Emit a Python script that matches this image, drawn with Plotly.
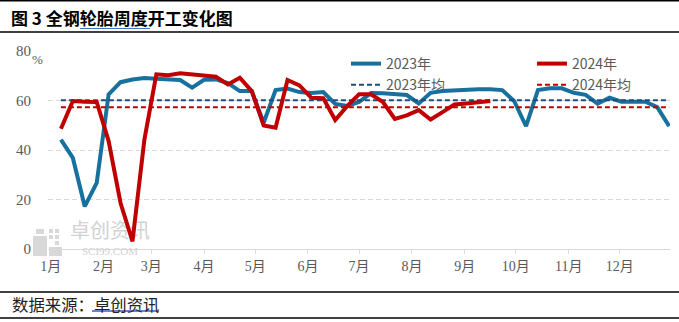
import pandas as pd
import plotly.graph_objects as go

# Weekly operating rate of all-steel tyres (%), one point per week
weeks = pd.date_range("2023-01-07", periods=52, freq="7D")

rate_2023 = [44.2, 36.8, 17.2, 26.7, 62.5, 67.4, 68.5, 69.1, 68.8, 68.5,
             68.3, 65.2, 68.4, 68.5, 67.0, 63.8, 63.8, 51.0, 64.2, 64.8,
             63.4, 63.0, 63.4, 58.6, 57.8, 59.4, 63.0, 62.9, 62.5, 62.2,
             58.8, 63.1, 63.8, 64.1, 64.1, 64.5, 64.5, 64.2, 59.8, 49.6,
             64.2, 64.9, 64.9, 63.1, 62.3, 58.7, 61.1, 59.5, 59.5, 59.5,
             57.3, 49.6]

rate_2024 = [48.6, 59.8, 59.5, 59.4, 43.6, 18.6, 3.1, 44.2, 70.6, 70.2,
             71.0, 70.6, 69.9, 69.6, 66.5, 69.2, 63.8, 49.9, 49.0, 68.3,
             66.1, 61.1, 60.9, 52.1, 57.7, 62.5, 62.5, 59.4, 52.6, 54.0,
             56.1, 52.3, 55.3, 58.4, 58.8, 59.1, 59.8]

avg_2023 = 60.1
avg_2024 = 57.3

month_ticks = pd.date_range("2023-01-01", periods=12, freq="MS")
month_labels = ["1月", "2月", "3月", "4月", "5月", "6月",
                "7月", "8月", "9月", "10月", "11月", "12月"]
y_ticks = [0, 20, 40, 60, 80]

BLUE = "#17709E"
NAVY = "#1F4E79"
RED = "#C00000"
GREY_TEXT = "#595959"
GRID = "#D9D9D9"

W, H = 679, 322
L, R, T, B = 48, 9, 51, 73
X0 = pd.Timestamp("2022-12-30 10:00")
X1 = pd.Timestamp("2023-12-30 12:00")


def px_x(px):
    return (px - L) / (W - L - R)


def px_y(py):
    return (H - B - py) / (H - T - B)


def px_date(px):
    return X0 + (X1 - X0) * px_x(px)


fig = go.Figure()

# faint source watermark, drawn first so the lines sit on top of it
fig.add_trace(go.Scatter(
    x=[px_date(110)], y=[6.6], mode="text", text=["卓创资讯"],
    textfont=dict(family="Noto Sans CJK SC", size=20, color="#D2D2D2"),
    showlegend=False, hoverinfo="skip", cliponaxis=False))

fig.add_trace(go.Scatter(
    x=weeks, y=rate_2023, name="2023年", mode="lines",
    line=dict(color=BLUE, width=4), legend="legend"))
fig.add_trace(go.Scatter(
    x=weeks, y=[avg_2023] * len(weeks), name="2023年均", mode="lines",
    line=dict(color=NAVY, width=2, dash="5px,3px"), legend="legend"))
fig.add_trace(go.Scatter(
    x=weeks[:len(rate_2024)], y=rate_2024, name="2024年", mode="lines",
    line=dict(color=RED, width=4), legend="legend2"))
fig.add_trace(go.Scatter(
    x=weeks, y=[avg_2024] * len(weeks), name="2024年均", mode="lines",
    line=dict(color=RED, width=2, dash="5px,3px"), legend="legend2"))

shapes = []
# header and footer rules
for py in (0.7, 32, 292, 318):
    shapes.append(dict(type="line", xref="paper", yref="paper",
                       x0=px_x(0), x1=px_x(W), y0=px_y(py), y1=px_y(py),
                       line=dict(color="black", width=1.4)))
# link underlines
shapes.append(dict(type="line", xref="paper", yref="paper",
                   x0=px_x(80), x1=px_x(150), y0=px_y(28.5), y1=px_y(28.5),
                   line=dict(color="#4472C4", width=1)))
shapes.append(dict(type="line", xref="paper", yref="paper",
                   x0=px_x(92), x1=px_x(158), y0=px_y(311), y1=px_y(311),
                   line=dict(color="#2F5FC4", width=1.5)))
# watermark logo blocks
for (a, b, c, d) in [(33, 236, 47, 256), (49, 247, 62, 256),
                     (49, 229, 53, 233), (55, 229, 59, 233),
                     (49, 235, 53, 239), (55, 235, 59, 239),
                     (55, 241, 59, 245), (36, 229, 44, 234)]:
    shapes.append(dict(type="rect", xref="paper", yref="paper", layer="below",
                       x0=px_x(a), x1=px_x(c), y0=px_y(d), y1=px_y(b),
                       fillcolor="#D8D8D8", line=dict(width=0)))

annotations = [
    dict(text="<b>图 3 全钢轮胎周度开工变化图</b>", xref="paper", yref="paper",
         x=px_x(9), y=px_y(18), xanchor="left", yanchor="middle",
         showarrow=False,
         font=dict(family="Noto Sans CJK SC", size=17, color="black")),
    dict(text="数据来源：卓创资讯", xref="paper", yref="paper",
         x=px_x(10), y=px_y(304), xanchor="left", yanchor="middle",
         showarrow=False,
         font=dict(family="Noto Sans CJK SC", size=16.4, color="#222222")),
    dict(text="%", xref="paper", yref="paper",
         x=px_x(30), y=px_y(59), xanchor="left", yanchor="middle",
         showarrow=False,
         font=dict(family="Liberation Serif", size=13, color=GREY_TEXT)),
    dict(text="SCI99.COM", xref="paper", yref="paper",
         x=px_x(110), y=px_y(251.5), xanchor="center", yanchor="middle",
         showarrow=False,
         font=dict(family="Liberation Serif", size=11, color="#D2D2D2")),
]

legend_style = dict(orientation="v", xanchor="left", yanchor="top",
                    bgcolor="rgba(0,0,0,0)", tracegroupgap=0,
                    font=dict(family="Noto Sans CJK SC", size=14,
                              color=GREY_TEXT))

fig.update_layout(
    width=W, height=H,
    margin=dict(l=L, r=R, t=T, b=B, pad=0),
    paper_bgcolor="white", plot_bgcolor="white",
    shapes=shapes, annotations=annotations,
    legend=dict(x=px_x(346), y=px_y(48), **legend_style),
    legend2=dict(x=px_x(532), y=px_y(48), **legend_style),
    xaxis=dict(type="date", range=[X0, X1],
               tickmode="array", tickvals=month_ticks, ticktext=month_labels,
               showgrid=False, showline=True, linecolor=GRID, linewidth=1,
               ticks="outside", ticklen=4, tickcolor=GRID,
               tickfont=dict(family="Liberation Serif, Noto Sans CJK SC",
                             size=14, color=GREY_TEXT)),
    yaxis=dict(range=[0, 80], tickmode="array", tickvals=y_ticks,
               showgrid=True, gridcolor=GRID, griddash="5px,3px",
               gridwidth=1, zeroline=False, showline=False,
               ticklabelstandoff=16,
               tickfont=dict(family="Liberation Serif", size=15,
                             color=GREY_TEXT)),
)

fig.write_html("out.html")
